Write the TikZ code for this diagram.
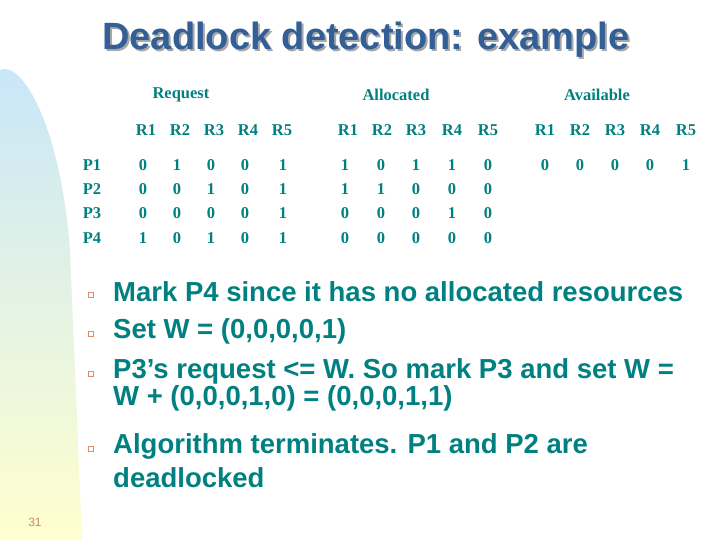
\documentclass[tikz,border=0pt]{standalone}
\usepackage{fontspec}
\setmainfont{Liberation Serif}
\newfontfamily\arial{Liberation Sans}
\definecolor{teal1}{RGB}{0,128,128}
\definecolor{ttl}{RGB}{50,95,150}
\definecolor{bul}{RGB}{220,140,110}
\begin{document}
\begin{tikzpicture}[x=1pt,y=-1pt,
  tb/.style={font=\fontsize{16.5}{17}\selectfont\bfseries, text=teal1, inner sep=0pt},
  bt/.style={font=\arial\fontsize{27.5}{29}\selectfont\bfseries, text=teal1, anchor=west, inner sep=0pt},
  bx/.style={draw=bul, fill=white, line width=0.8pt, minimum size=5.5pt, inner sep=0pt}]
\useasboundingbox (0,0) rectangle (720,540);
\shade[top color={rgb,255:red,200;green,230;blue,250}, bottom color={rgb,255:red,255;green,255;blue,205}]
  (0,540) -- (0,70) .. controls (20,60) and (60,120) .. (70,250) -- (82,540) -- cycle;
\node[font=\arial\fontsize{38}{38}\selectfont\bfseries, text=gray!70] at (368,42) {Deadlock detection: example};
\node (title) [font=\arial\fontsize{38}{38}\selectfont\bfseries, text=ttl] at (366,40) {Deadlock detection: example};
\node (rq) [tb] at (181,95) {Request};
\node (al) [tb] at (396,95) {Allocated};
\node (av) [tb] at (597,95) {Available};
\foreach \r/\x in {1/146,2/180,3/214,4/248,5/282} {\node (hq\r) [tb] at (\x,130) {R\r};}
\foreach \r/\x in {1/348,2/382,3/416,4/452,5/488} {\node (ha\r) [tb] at (\x,130) {R\r};}
\foreach \r/\x in {1/545,2/580,3/615,4/650,5/686} {\node (hv\r) [tb] at (\x,130) {R\r};}
\foreach \p/\y in {1/165,2/189,3/213,4/238} {\node (p\p) [tb] at (92,\y) {P\p};}
\foreach \y/\vals in {165/{0,1,0,0,1},189/{0,0,1,0,1},213/{0,0,0,0,1},238/{1,0,1,0,1}} {
  \foreach \v [count=\i] in \vals {
    \pgfmathsetmacro\xx{{143,177,211,245,283}[\i-1]}
    \node[tb] at (\xx,\y) {\v};}}
\foreach \y/\vals in {165/{1,0,1,1,0},189/{1,1,0,0,0},213/{0,0,0,1,0},238/{0,0,0,0,0}} {
  \foreach \v [count=\i] in \vals {
    \pgfmathsetmacro\xx{{345,381,416,452,488}[\i-1]}
    \node[tb] at (\xx,\y) {\v};}}
\foreach \v [count=\i] in {0,0,0,0,1} {
  \pgfmathsetmacro\xx{{545,580,615,650,686}[\i-1]}
  \node[tb] at (\xx,165) {\v};}
\foreach \n/\y in {1/295,2/334,3/374,4/449} {\node (b\n) [bx] at (91,\y) {};}
\node (t1) [bt] at (113,292) {Mark P4 since it has no allocated resources};
\node (t2) [bt] at (113,331) {Set W = (0,0,0,0,1)};
\node (t3) [bt] at (113,371) {P3’s request <= W. So mark P3 and set W =};
\node (t3b) [bt] at (113,398) {W + (0,0,0,1,0) = (0,0,0,1,1)};
\node (t4) [bt] at (113,446) {Algorithm terminates. P1 and P2 are};
\node (t4b) [bt] at (113,478) {deadlocked};
\node (pg) [font=\arial\fontsize{12}{12}\selectfont, text=bul!80!gray] at (35,522) {31};
\end{tikzpicture}
\end{document}
